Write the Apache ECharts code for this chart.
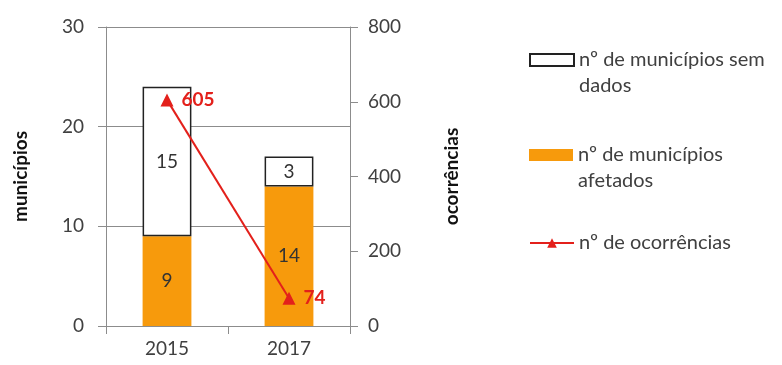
<!DOCTYPE html>
<html>
<head>
<meta charset="utf-8">
<script src="https://cdn.jsdelivr.net/npm/echarts@6/dist/echarts.min.js"></script>
<style>
    html, body { margin: 0; padding: 0; background: #fff; }
    #chart { width: 782px; height: 365px; }
</style>
</head>
<body>
<div id="chart"></div>
<script>
// dados do gráfico
const years = ["2015", "2017"];
const afetados = [9, 14];       // nº de municípios afetados
const semDados = [15, 3];       // nº de municípios sem dados
const ocorrencias = [605, 74];  // nº de ocorrências
const leftTicks = [0, 10, 20, 30];
const rightTicks = [0, 200, 400, 600, 800];

const nameSem = "nº de municípios sem dados";
const nameAfet = "nº de municípios afetados";
const nameOcor = "nº de ocorrências";

const FONT = "Lato";
const gray = "#8c8c8c";
const txt = "#404040";
const red = "#e3201b";
const orange = "#f79a0c";

const chart = echarts.init(document.getElementById("chart"));

// legenda com ícone alinhado na primeira linha
const legendText = {
    fontFamily: FONT,
    fontSize: 20,
    color: txt,
    lineHeight: 26
};
const legendFmt = name => {
    if (name === nameSem) return "\nnº de municípios sem\ndados";
    if (name === nameAfet) return "\nnº de municípios\nafetados";
    return name;
};
const legendBase = { left: 524, itemWidth: 44, itemHeight: 12, textStyle: legendText, formatter: legendFmt };

const options = {
    animation: false,
    textStyle: { fontFamily: FONT },
    grid: { left: 106, right: 432, top: 27, bottom: 39 },
    legend: [
        Object.assign({ data: [{ name: nameSem, icon: "rect" }], top: 16 }, legendBase),
        Object.assign({ data: [{ name: nameAfet, icon: "rect" }], top: 111 }, legendBase),
        Object.assign({ data: [nameOcor], top: 225 }, legendBase)
    ],
    xAxis: {
        type: "category",
        data: years,
        axisLine: { lineStyle: { color: gray } },
        axisTick: { show: true, length: 8, lineStyle: { color: gray } },
        axisLabel: { color: txt, fontSize: 19, margin: 13, fontFamily: FONT }
    },
    yAxis: [
        {
            type: "value",
            min: leftTicks[0],
            max: leftTicks[leftTicks.length - 1],
            interval: 10,
            name: "municípios",
            nameLocation: "middle",
            nameRotate: 90,
            nameGap: 76,
            nameTextStyle: { fontSize: 19, fontWeight: "bold", color: "#111", fontFamily: FONT },
            axisLine: { show: true, lineStyle: { color: gray } },
            axisTick: { show: true, length: 8, lineStyle: { color: gray } },
            axisLabel: { color: txt, fontSize: 19, margin: 22, fontFamily: FONT },
            splitLine: { show: true, lineStyle: { color: gray } }
        },
        {
            type: "value",
            position: "right",
            min: rightTicks[0],
            max: rightTicks[rightTicks.length - 1],
            interval: 200,
            name: "ocorrências",
            nameLocation: "middle",
            nameRotate: 90,
            nameGap: 92,
            nameTextStyle: { fontSize: 19, fontWeight: "bold", color: "#111", fontFamily: FONT },
            axisLine: { show: true, lineStyle: { color: gray } },
            axisTick: { show: true, length: 8, lineStyle: { color: gray } },
            axisLabel: { color: txt, fontSize: 19, margin: 18, fontFamily: FONT },
            splitLine: { show: false }
        }
    ],
    series: [
        {
            name: nameAfet,
            type: "bar",
            stack: "mun",
            barWidth: "40%",
            data: afetados,
            itemStyle: { color: orange },
            label: { show: true, position: "inside", color: "#333", fontSize: 19, fontFamily: FONT }
        },
        {
            name: nameSem,
            type: "bar",
            stack: "mun",
            data: semDados,
            itemStyle: { color: "#fff", borderColor: "#222", borderWidth: 1.5 },
            label: { show: true, position: "inside", color: "#333", fontSize: 19, fontFamily: FONT }
        },
        {
            name: nameOcor,
            type: "line",
            yAxisIndex: 1,
            data: ocorrencias,
            symbol: "triangle",
            symbolSize: 13,
            lineStyle: { color: red, width: 2 },
            itemStyle: { color: red },
            label: { show: true, position: "right", distance: 8, color: red, fontWeight: "bold", fontSize: 19, fontFamily: FONT }
        }
    ]
};

chart.setOption(options);
</script>
</body>
</html>
